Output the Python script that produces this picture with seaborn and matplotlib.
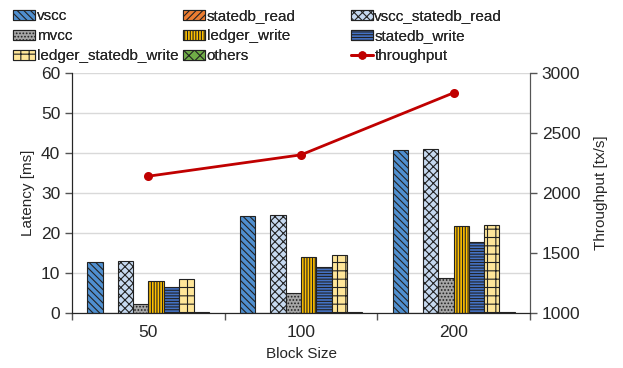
import numpy as np
import pandas as pd
import matplotlib
matplotlib.use("Agg")
import matplotlib.pyplot as plt
import seaborn as sns
from matplotlib.patches import Patch
from matplotlib.lines import Line2D

# Data
block_sizes = ["50", "100", "200"]
components = ["vscc", "statedb_read", "vscc_statedb_read", "mvcc",
              "ledger_write", "statedb_write", "ledger_statedb_write", "others"]
vscc = [12.7, 24.3, 40.7]
statedb_read = [0.0, 0.0, 0.0]
vscc_statedb_read = [12.9, 24.6, 41.0]
mvcc = [2.3, 4.9, 8.8]
ledger_write = [8.0, 13.9, 21.7]
statedb_write = [6.5, 11.4, 17.8]
ledger_statedb_write = [8.5, 14.4, 21.9]
others = [0.3, 0.2, 0.2]
throughput = [2140, 2318, 2835]

series = [vscc, statedb_read, vscc_statedb_read, mvcc,
          ledger_write, statedb_write, ledger_statedb_write, others]
rows = []
for name, vals in zip(components, series):
    for b, v in zip(block_sizes, vals):
        rows.append({"Block Size": b, "component": name, "latency": v})
df = pd.DataFrame(rows)

colors = ["#4f8fd0", "#ed7d31", "#c6d9f0", "#a6a6a6",
          "#ffc000", "#4472c4", "#ffe699", "#70ad47"]
hatches = ["\\\\\\\\\\", "/////", "xxxx", ".....", "||||||", "------", "++", "xxx"]

sns.set_style("white")
plt.rcParams['font.family'] = ['Liberation Sans', 'DejaVu Sans']
plt.rcParams['hatch.linewidth'] = 0.8

fig = plt.figure(figsize=(6.23, 3.68), dpi=100)
ax = fig.add_axes([0.1156, 0.1495, 0.7351, 0.6521])

sns.barplot(data=df, x="Block Size", y="latency", hue="component",
            hue_order=components, order=block_sizes, palette=colors,
            width=0.8, edgecolor="#222222", linewidth=0.8, ax=ax, legend=False)
for cont, h, c in zip(ax.containers, hatches, colors):
    for p in cont:
        p.set_hatch(h)
        p.set_facecolor(c)
        p.set_edgecolor("#222222")

ax.set_ylim(0, 60)
ax.set_xlim(-0.5, 2.5)
ax.set_yticks(range(0, 61, 10))
ax.yaxis.grid(True, color="#d9d9d9", linewidth=1)
ax.set_axisbelow(True)
ax.set_ylabel("Latency [ms]", fontsize=11)
ax.set_xlabel("Block Size", fontsize=11, labelpad=5)
ax.tick_params(axis="y", direction="out", length=5, width=1, color="#555555",
               labelsize=12.5, left=True)
ax.tick_params(axis="x", which="major", length=0, labelsize=12.5, pad=9)
ax.set_xticks([-0.5, 0.5, 1.5, 2.5], minor=True)
ax.tick_params(axis="x", which="minor", direction="out", length=5, width=1,
               color="#555555", bottom=True)
ax.spines["top"].set_visible(False)
ax.spines["left"].set_color("#222222")
ax.spines["bottom"].set_color("#222222")
ax.spines["right"].set_color("#555555")

ax2 = ax.twinx()
sns.pointplot(x=block_sizes, y=throughput, order=block_sizes, color="#c00000",
              markers="o", markersize=5, linewidth=2, ax=ax2)
ax2.set_xlim(-0.5, 2.5)
ax2.set_ylim(1000, 3000)
ax2.set_yticks(range(1000, 3001, 500))
ax2.set_ylabel("Throughput [tx/s]", fontsize=11, labelpad=10)
ax2.tick_params(axis="y", direction="out", length=5, width=1, color="#555555",
                labelsize=12.5, right=True)
ax2.spines["top"].set_visible(False)
ax2.spines["right"].set_color("#555555")
ax2.grid(False)

handles = [Patch(facecolor=c, edgecolor="#222222", hatch=h, linewidth=0.8)
           for c, h in zip(colors, hatches)]
labels = list(components)
handles.append(Line2D([], [], color="#c00000", marker="o", markersize=5, linewidth=2))
labels.append("throughput")

# one legend per column, rows filled left to right
col_x = [0.021, 0.294, 0.563]
for k in range(3):
    idx = [k, k + 3, k + 6]
    leg = fig.legend([handles[i] for i in idx], [labels[i] for i in idx],
                     loc="upper left", bbox_to_anchor=(col_x[k], 0.975),
                     frameon=False, fontsize=11, handlelength=1.45,
                     handleheight=0.65, handletextpad=0.1, labelspacing=0.4,
                     borderpad=0, borderaxespad=0)
    fig.add_artist(leg)

fig.savefig("out.png", dpi=100)
